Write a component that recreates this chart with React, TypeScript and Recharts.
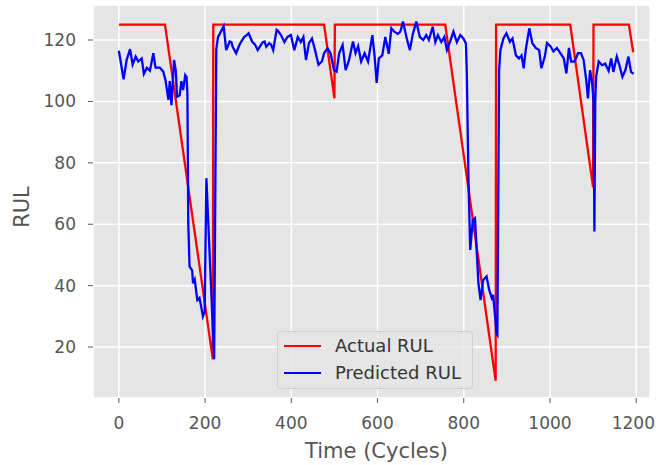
import { LineChart, Line, XAxis, YAxis, CartesianGrid, Legend, Label } from "recharts";

// Actual RUL (piecewise: capped at 125, then counting down per engine)
const actualCycles = [0, 107, 218, 219, 476, 500, 501, 757, 874, 875, 1047, 1100, 1101, 1183, 1193];
const actualRul = [125, 125, 16, 125, 125, 101, 125, 125, 9, 125, 125, 72, 125, 125, 116];

// Predicted RUL
const predictedCycles = [
  0, 11, 18, 26, 32, 39, 45, 53, 58, 65, 72, 80, 85, 95, 103, 108, 115, 118, 122, 128,
  132, 135, 141, 145, 149, 154, 157, 159, 161, 164, 170, 172, 176, 182, 187, 191, 195, 199, 203, 221,
  226, 230, 234, 243, 249, 257, 261, 264, 272, 280, 284, 291, 296, 301, 309, 316, 322, 330, 334, 338,
  342, 349, 353, 358, 366, 369, 376, 384, 391, 399, 407, 415, 422, 428, 434, 441, 448, 455, 463, 471,
  476, 484, 491, 499, 505, 511, 519, 526, 534, 543, 549, 555, 562, 570, 578, 588, 593, 598, 603, 611,
  618, 626, 632, 639, 647, 653, 659, 667, 675, 682, 690, 698, 706, 713, 719, 728, 734, 740, 748, 755,
  761, 768, 776, 784, 792, 799, 805, 807, 811, 815, 821, 826, 834, 839, 845, 853, 859, 865, 868, 872,
  876, 878, 882, 885, 892, 899, 907, 913, 921, 928, 934, 939, 944, 952, 959, 967, 975, 980, 988, 993,
  1001, 1008, 1016, 1024, 1032, 1038, 1044, 1049, 1057, 1065, 1072, 1078, 1084, 1088, 1093, 1098, 1101, 1103, 1105, 1107,
  1113, 1121, 1128, 1136, 1142, 1147, 1155, 1161, 1168, 1175, 1182, 1188, 1194,
];
const predictedRul = [
  116.5, 107.2, 113.5, 117, 112, 114.6, 113, 114, 109, 111, 110, 115.7, 111, 111, 109.7, 107, 100.5, 106.6, 98.8, 113.5,
  110, 101.5, 102, 106.6, 103.7, 108.6, 108, 102.6, 60.3, 46.2, 45, 40.8, 42, 35.3, 36, 33.1, 30, 31.5, 75, 16,
  117, 121, 122, 124.5, 116.7, 119.5, 119.3, 117.8, 115.7, 118.5, 119.5, 121, 121.5, 122.2, 119.5, 118.5, 116.7, 118.5, 119.3, 119.5,
  117.8, 119, 118.5, 116.7, 123.3, 123, 121.6, 119.3, 121, 121.6, 116.7, 121, 119.3, 121, 113.5, 119, 120.5, 116.7, 111.9, 113,
  115.7, 117.3, 115.7, 110.2, 109.7, 115.7, 118.4, 110.2, 113.5, 119.5, 115.7, 118, 113, 115.7, 113, 121.6, 115, 106, 114, 115,
  121, 115.5, 123.8, 122.7, 122, 122.7, 126, 121, 116.7, 122, 126, 121, 120, 121.6, 120, 124.3, 119.3, 121.6, 119.3, 121,
  116.7, 119.3, 122.7, 119.3, 121.6, 120.5, 118.9, 110, 74, 51.6, 61.4, 62, 40.7, 35.3, 41.8, 43, 38.6, 36, 37, 31,
  24.5, 24, 110, 116.7, 120.5, 122.2, 119.4, 120.5, 115, 114, 115, 110.8, 117, 123.8, 119, 117.4, 116.7, 110.8, 114.6, 119,
  118, 116.3, 117.4, 115.7, 114, 109.1, 117.4, 113, 113, 115.7, 115.7, 113.5, 107, 101, 110.2, 105.8, 100, 57.6, 100, 108,
  113, 111.8, 112.3, 110, 114, 109.6, 114.6, 111.8, 108, 110.2, 114.6, 109.6, 109,
];

const xTicks = [0, 200, 400, 600, 800, 1000, 1200];
const yTicks = [20, 40, 60, 80, 100, 120];

const actualData = actualCycles.map((cycle, i) => ({ cycle, actual: actualRul[i] }));
const predictedData = predictedCycles.map((cycle, i) => ({ cycle, predicted: predictedRul[i] }));

const FONT = "'DejaVu Sans', sans-serif";
const TEXT_COLOR = "#555555";
const TICK_STYLE = { fill: TEXT_COLOR, fontSize: 17, fontFamily: FONT };

// x tick label; the last one is nudged so it stays inside the 656px frame
const XTick = (props: any) => {
  const { x, y, payload } = props;
  const label = String(payload.value);
  const halfWidth = label.length * 0.636 * 17 / 2;
  const cx = Math.min(x, 655 - halfWidth);
  return (
    <text x={cx} y={y} dy="0.71em" textAnchor="middle" {...TICK_STYLE}>
      {label}
    </text>
  );
};

const renderLegend = () => (
  <div
    style={{
      width: 196,
      height: 58,
      boxSizing: "border-box",
      background: "rgba(229,229,229,0.8)",
      border: "1px solid #cfcfcf",
      borderRadius: 4,
      fontFamily: FONT,
      fontSize: 18,
      color: "#333",
    }}
  >
    {[
      { label: "Actual RUL", color: "#FF0000" },
      { label: "Predicted RUL", color: "#0000FF" },
    ].map((item, i) => (
      <div
        key={item.label}
        style={{ position: "absolute", left: 7, top: i === 0 ? 3 : 30, display: "flex", alignItems: "center", height: 24 }}
      >
        <span style={{ display: "inline-block", width: 37, height: 2.4, background: item.color }} />
        <span style={{ marginLeft: 14, lineHeight: "24px" }}>{item.label}</span>
      </div>
    ))}
  </div>
);

export default function App() {
  return (
    <div style={{ width: 656, height: 465, overflow: "hidden", position: "relative", background: "#fff" }}>
      <style>{"body{margin:0}"}</style>
      <LineChart width={656} height={465} margin={{ top: 5, right: 6, left: 0, bottom: 0 }}>
        <CartesianGrid fill="#E5E5E5" fillOpacity={1} stroke="#FFFFFF" strokeWidth={1.5} />
        <XAxis
          type="number"
          dataKey="cycle"
          domain={[-60, 1232]}
          allowDataOverflow
          ticks={xTicks}
          height={67}
          axisLine={false}
          tickLine={{ stroke: TEXT_COLOR }}
          tickSize={5}
          tickMargin={14}
          tick={XTick}
        >
          <Label
            value="Time (Cycles)"
            position="insideBottom"
            offset={7}
            dx={5}
            fill={TEXT_COLOR}
            fontSize={21}
            fontFamily={FONT}
          />
        </XAxis>
        <YAxis
          type="number"
          domain={[3.4, 131.4]}
          allowDataOverflow
          ticks={yTicks}
          width={93}
          axisLine={false}
          tickLine={{ stroke: TEXT_COLOR }}
          tickSize={5}
          tickMargin={12}
          tick={TICK_STYLE}
        >
          <Label
            content={() => (
              <text
                x={22}
                y={207}
                transform="rotate(-90 22 207)"
                textAnchor="middle"
                dominantBaseline="central"
                fill={TEXT_COLOR}
                fontSize={21}
                fontFamily={FONT}
              >
                RUL
              </text>
            )}
          />
        </YAxis>
        <Legend
          layout="vertical"
          align="center"
          verticalAlign="middle"
          content={renderLegend}
          wrapperStyle={{ left: 277, top: 331, width: 196, height: 58 }}
        />
        <Line
          data={actualData}
          dataKey="actual"
          type="linear"
          stroke="#FF0000"
          strokeWidth={2.3}
          dot={false}
          isAnimationActive={false}
        />
        <Line
          data={predictedData}
          dataKey="predicted"
          type="linear"
          stroke="#0000FF"
          strokeWidth={2.3}
          dot={false}
          isAnimationActive={false}
        />
      </LineChart>
    </div>
  );
}
